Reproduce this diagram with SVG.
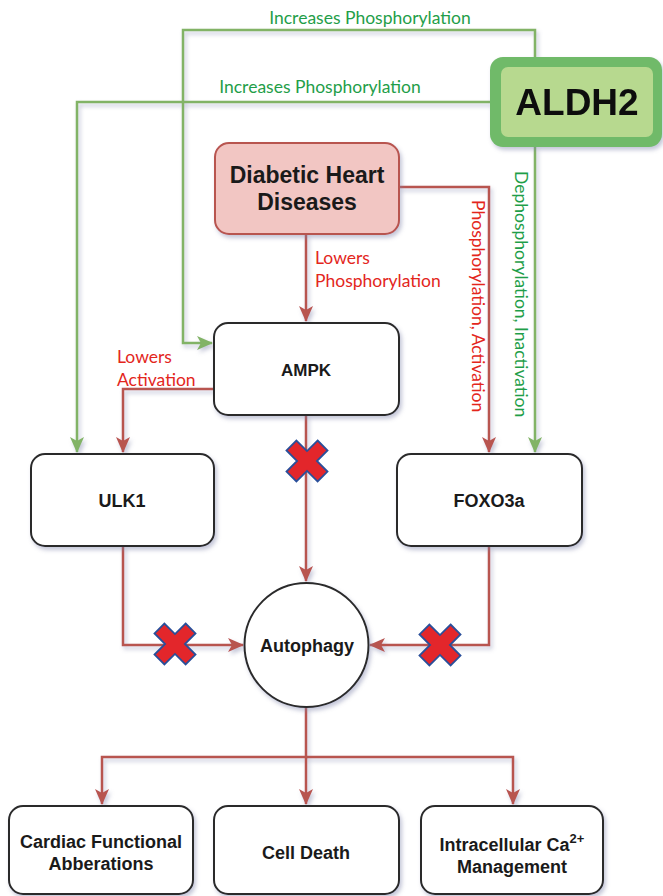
<svg xmlns="http://www.w3.org/2000/svg" width="663" height="896" viewBox="0 0 663 896">
<defs>
<style>
.node{fill:#ffffff;stroke:#2b2b2b;stroke-width:2;}
.nt{font-family:"Liberation Sans",Arial,sans-serif;font-weight:bold;font-size:18px;fill:#1a1a1a;text-anchor:middle;}
.big{font-size:23px;}
.red{fill:none;stroke:#b85450;stroke-width:2.5;}
.green{fill:none;stroke:#82b366;stroke-width:2.5;}
.lr{font-family:Lato,"Open Sans",sans-serif;font-size:17.5px;fill:#e3261c;}
.lg{font-family:Lato,"Open Sans",sans-serif;font-size:17.5px;fill:#1f9e49;}
.xm{fill:#e3262b;stroke:#2a4f9a;stroke-width:1.8;}
</style>
<filter id="sh" x="-20%" y="-20%" width="140%" height="140%">
<feDropShadow dx="2" dy="3" stdDeviation="2" flood-color="#7a80a8" flood-opacity="0.45"/>
</filter>
<marker id="ar" viewBox="0 0 16 14" refX="15" refY="7" markerWidth="16" markerHeight="14" markerUnits="userSpaceOnUse" orient="auto">
<path d="M0,0 L16,7 L0,14 L4,7 z" fill="#b85450"/>
</marker>
<marker id="ag" viewBox="0 0 16 14" refX="15" refY="7" markerWidth="16" markerHeight="14" markerUnits="userSpaceOnUse" orient="auto">
<path d="M0,0 L16,7 L0,14 L4,7 z" fill="#82b366"/>
</marker>
<g id="xmark">
<polygon transform="rotate(45)" points="-7,-22 7,-22 7,-7 22,-7 22,7 7,7 7,22 -7,22 -7,7 -22,7 -22,-7 -7,-7"/>
</g>
</defs>
<rect width="663" height="896" fill="#ffffff"/>

<g id="connectors" filter="url(#sh)">
<path class="green" d="M535,57 V30 H183 V343 H212" marker-end="url(#ag)"/>
<path class="green" d="M490,102 H77 V452" marker-end="url(#ag)"/>
<path class="green" d="M535,147 V452" marker-end="url(#ag)"/>
<path class="red" d="M399,187 H489 V452" marker-end="url(#ar)"/>
<path class="red" d="M306,234 V321" marker-end="url(#ar)"/>
<path class="red" d="M214,389 H123 V452" marker-end="url(#ar)"/>
<path class="red" d="M306,415 V581" marker-end="url(#ar)"/>
<path class="red" d="M123,546 V645 H243" marker-end="url(#ar)"/>
<path class="red" d="M489,546 V645 H370" marker-end="url(#ar)"/>
<path class="red" d="M306,707 V757 H102 V804" marker-end="url(#ar)"/>
<path class="red" d="M306,757 V804" marker-end="url(#ar)"/>
<path class="red" d="M306,757 H513 V804" marker-end="url(#ar)"/>
</g>

<g id="labels">
<text class="lg" x="370" y="24" text-anchor="middle">Increases Phosphorylation</text>
<text class="lg" x="320" y="93" text-anchor="middle">Increases Phosphorylation</text>
<text class="lg" x="515" y="171" transform="rotate(90 515 171)">Dephosphorylation, Inactivation</text>
<text class="lr" x="472" y="200" transform="rotate(90 472 200)">Phosphorylation, Activation</text>
<text class="lr" x="315" y="264">Lowers</text>
<text class="lr" x="315" y="287">Phosphorylation</text>
<text class="lr" x="117" y="363">Lowers</text>
<text class="lr" x="117" y="386">Activation</text>
</g>

<g id="xmarks">
<use href="#xmark" class="xm" x="307" y="461"/>
<use href="#xmark" class="xm" x="175" y="644"/>
<use href="#xmark" class="xm" x="440" y="645"/>
</g>

<g id="aldh2" filter="url(#sh)">
<rect x="490" y="57" width="172" height="90" rx="13" fill="#6fba69"/>
<rect x="501" y="67" width="152" height="70" rx="7" fill="#b7d98f"/>
<text x="577" y="115" text-anchor="middle" font-family="'Liberation Sans',Arial,sans-serif" font-weight="bold" font-size="37" fill="#111111">ALDH2</text>
</g>

<g id="dhd">
<rect x="215" y="143" width="184" height="91" rx="14" fill="#f2c6c3" stroke="#b85450" stroke-width="2" filter="url(#sh)"/>
<text class="nt big" x="307" y="183">Diabetic Heart</text>
<text class="nt big" x="307" y="210">Diseases</text>
</g>

<g id="ampk">
<rect class="node" x="214" y="323" width="185" height="92" rx="14" filter="url(#sh)"/>
<text class="nt" x="306" y="376" style="font-size:17px">AMPK</text>
</g>

<g id="ulk1">
<rect class="node" x="31" y="454" width="183" height="92" rx="14" filter="url(#sh)"/>
<text class="nt" x="122" y="507">ULK1</text>
</g>

<g id="foxo3a">
<rect class="node" x="397" y="454" width="185" height="92" rx="14" filter="url(#sh)"/>
<text class="nt" x="489" y="507">FOXO3a</text>
</g>

<g id="autophagy">
<circle class="node" cx="306.5" cy="645" r="62" filter="url(#sh)"/>
<text class="nt" x="307" y="652">Autophagy</text>
</g>

<g id="cardiac">
<rect class="node" x="9" y="806" width="184" height="88" rx="14" filter="url(#sh)"/>
<text class="nt" x="101" y="848">Cardiac Functional</text>
<text class="nt" x="101" y="870">Abberations</text>
</g>

<g id="celldeath">
<rect class="node" x="214" y="806" width="185" height="88" rx="14" filter="url(#sh)"/>
<text class="nt" x="306" y="859">Cell Death</text>
</g>

<g id="calcium">
<rect class="node" x="421" y="806" width="182" height="88" rx="14" filter="url(#sh)"/>
<text class="nt" x="512" y="851">Intracellular Ca<tspan font-size="13" dy="-8">2+</tspan></text>
<text class="nt" x="512" y="873">Management</text>
</g>
</svg>
